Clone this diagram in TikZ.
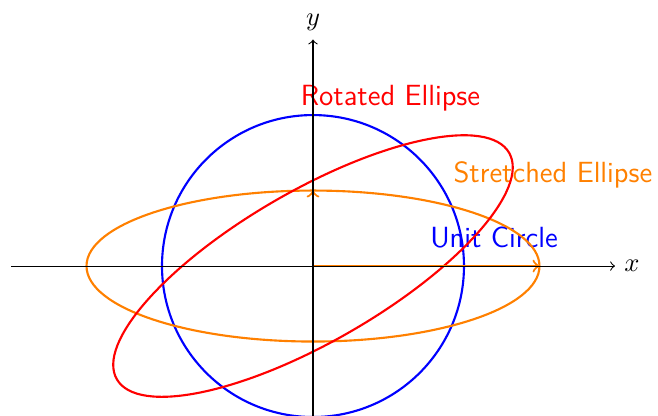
\documentclass[tikz,border=0pt]{standalone}
\begin{document}
\begin{tikzpicture}[x=2cm,y=2cm,
  axis/.style={->,thin,black},
  curve/.style={thick},
  vec/.style={->,thick,orange},
  lbl/.style={font=\sffamily\fontsize{11}{13}\selectfont,anchor=base}]
\useasboundingbox (-2.073,-0.987) rectangle (2.285,1.762);
\coordinate (O) at (0,0);
\coordinate (xl) at (-2,0);
\coordinate (xr) at (2,0);
\coordinate (yb) at (0,-1);
\coordinate (yt) at (0,1.5);
\coordinate (vx) at (1.5,0);
\coordinate (vy) at (0,0.5);
% labels
\node[lbl,red] (lr) at (0.513,1.06) {Rotated Ellipse};
\node[lbl,orange] (ls) at (1.589,0.55) {Stretched Ellipse};
\node[lbl,blue] (lu) at (1.199,0.126) {Unit Circle};
% curves
\draw[curve,blue] (O) circle [radius=1];
\draw[curve,orange] (O) ellipse [x radius=1.5, y radius=0.5];
\draw[curve,red,rotate=30] (O) ellipse [x radius=1.5, y radius=0.5];
% vectors
\draw[vec] (O) -- (vx);
\draw[vec] (O) -- (vy);
% axes
\draw[axis] (xl) -- (xr) node[right] (xlab) {$x$};
\draw[axis] (yb) -- (yt) node[above] (ylab) {$y$};
\end{tikzpicture}
\end{document}
